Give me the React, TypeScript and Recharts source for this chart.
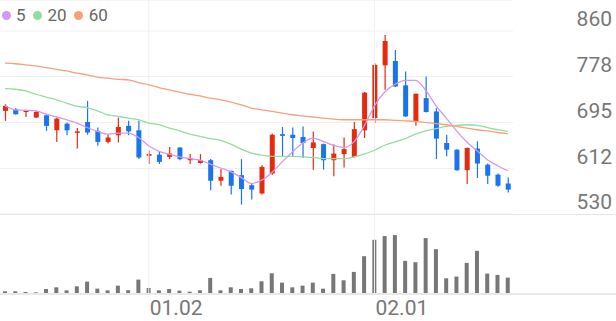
import { ComposedChart, Bar, Line, XAxis, YAxis, CartesianGrid, ReferenceLine } from 'recharts';

// daily candles, oldest first
const opens = [716, 719, 714, 704, 708, 681, 693, 677, 696, 680, 660, 672, 689, 681, 635, 637, 633, 650, 627, 622, 627, 590, 608, 600, 582, 567, 603, 674, 673, 669, 649, 656, 627, 638, 633, 681, 703, 798, 806, 762, 697, 739, 715, 658, 646, 609, 648, 619, 601, 585];
const highs = [728, 721, 718, 716, 709, 704, 695, 685, 734, 686, 674, 704, 698, 698, 644, 642, 651, 650, 638, 638, 629, 611, 608, 629, 585, 618, 675, 687, 686, 688, 679, 657, 656, 668, 696, 750, 802, 853, 826, 787, 747, 778, 721, 673, 647, 650, 661, 621, 603, 596];
const lows = [698, 709, 705, 703, 680, 660, 672, 648, 673, 653, 657, 659, 672, 629, 620, 620, 629, 627, 620, 621, 573, 581, 565, 547, 556, 565, 601, 633, 634, 631, 610, 610, 598, 614, 632, 667, 694, 754, 759, 705, 689, 713, 629, 634, 608, 584, 595, 584, 579, 569];
const closes = [725, 710, 717, 714, 689, 702, 681, 679, 677, 660, 668, 687, 679, 632, 638, 624, 639, 629, 630, 627, 590, 597, 581, 575, 574, 615, 673, 671, 667, 658, 659, 627, 639, 647, 683, 749, 799, 842, 760, 706, 747, 714, 666, 646, 609, 649, 621, 599, 581, 574];
const volumes = [5, 5, 3, 2, 12, 17, 8, 20, 34, 13, 8, 22, 8, 40, 15, 8, 12, 7, 4, 8, 45, 8, 17, 12, 14, 35, 59, 31, 17, 22, 31, 13, 57, 38, 63, 110, 159, 170, 173, 96, 92, 164, 131, 44, 49, 90, 126, 58, 54, 46];

// moving averages
const ma5 = [725, 718, 717, 716, 710, 705, 700, 694, 686, 679, 674, 676, 676, 668, 653, 643, 638, 633, 630, 627, 620, 613, 606, 596, 585, 591, 605, 624, 642, 658, 667, 661, 654, 650, 660, 689, 725, 750, 764, 771, 771, 753, 725, 703, 680, 660, 644, 628, 617, 608];
const ma20 = [756, 755, 752, 746, 741, 736, 730, 724, 722, 716, 709, 706, 703, 700, 694, 691, 685, 680, 674, 670, 666, 663, 656, 647, 640, 636, 634, 634, 634, 633, 632, 630, 630, 630, 633, 638, 645, 654, 660, 666, 674, 680, 684, 688, 690, 691, 690, 686, 682, 679];
const ma60 = [802, 801, 799, 797, 794, 791, 788, 784, 781, 777, 775, 773, 772, 767, 763, 758, 754, 750, 746, 743, 739, 736, 732, 727, 721, 718, 715, 712, 709, 707, 705, 703, 701, 700, 700, 700, 700, 700, 699, 698, 697, 695, 693, 691, 688, 685, 682, 680, 677, 675];

const priceTicks = [530, 612, 695, 778, 860];
const dateTicks = [14, 36];
const dateLabels = ['01.02', '02.01'];

const maSeries = [
  { key: 'ma5', name: '5', color: '#d597f0' },
  { key: 'ma20', name: '20', color: '#94dca0' },
  { key: 'ma60', name: '60', color: '#f6a07c' }
];

const UP = '#e52b0d';
const DOWN = '#1a74ec';
const GRID = '#f0f0f0';
const FONT = 'Roboto, sans-serif';

const data = opens.map((open, i) => ({
  i,
  open,
  high: highs[i],
  low: lows[i],
  close: closes[i],
  range: [lows[i], highs[i]],
  volume: volumes[i],
  ma5: ma5[i],
  ma20: ma20[i],
  ma60: ma60[i]
}));

function Candle(props: any) {
  const { x, y, width, height, payload } = props;
  const { open, close, high, low } = payload;
  const color = close >= open ? UP : DOWN;
  const span = high - low || 1;
  const toY = (v: number) => y + ((high - v) / span) * height;
  const top = toY(Math.max(open, close));
  const bottom = toY(Math.min(open, close));
  const cx = x + width / 2;
  return (
    <g>
      <line x1={cx} x2={cx} y1={y} y2={y + height} stroke={color} strokeWidth={1.2} />
      <rect x={x} y={top} width={width} height={Math.max(bottom - top, 1.5)} fill={color} />
    </g>
  );
}

function PriceTick({ x, y, payload }: any) {
  return (
    <text x={x + 99} y={y - 5} textAnchor="end" fill="#777" fontSize={21} fontFamily={FONT}>
      {payload.value}
    </text>
  );
}

function DateTick({ x, y, payload }: any) {
  const label = dateLabels[dateTicks.indexOf(payload.value)];
  return (
    <text x={x + 1} y={y} dy={22} textAnchor="start" fill="#777" fontSize={21} fontFamily={FONT}>
      {label}
    </text>
  );
}

export default function App() {
  return (
    <div style={{ position: 'absolute', left: 0, top: 0, width: 616, height: 321, background: '#fff', fontFamily: FONT }}>
      <ComposedChart
        width={616}
        height={215}
        data={data}
        margin={{ top: 0, right: 0, bottom: 1, left: 0 }}
        barCategoryGap={0}
      >
        <CartesianGrid vertical={false} stroke={GRID} />
        <XAxis dataKey="i" hide />
        <YAxis
          orientation="right"
          domain={[530, 916]}
          ticks={priceTicks}
          width={103}
          axisLine={false}
          tickLine={false}
          tickSize={0}
          tickMargin={0}
          interval={0}
          tick={<PriceTick />}
        />
        {dateTicks.map((t) => (
          <ReferenceLine key={t} x={t} stroke={GRID} />
        ))}
        <Bar dataKey="range" barSize={5} shape={<Candle />} isAnimationActive={false} />
        {maSeries.map((s) => (
          <Line
            key={s.key}
            type="monotone"
            dataKey={s.key}
            name={s.name}
            stroke={s.color}
            strokeWidth={1.3}
            dot={false}
            activeDot={false}
            isAnimationActive={false}
          />
        ))}
      </ComposedChart>

      <div style={{ position: 'absolute', left: 0, top: 214, width: 616, height: 1, background: '#e6e6e6' }} />

      <div style={{ position: 'absolute', left: 0, top: 215 }}>
        <ComposedChart
          width={616}
          height={106}
          data={data}
          margin={{ top: 0, right: 103, bottom: 0, left: 0 }}
          barCategoryGap={0}
        >
          <XAxis
            dataKey="i"
            ticks={dateTicks}
            interval={0}
            height={28}
            axisLine={false}
            tickLine={false}
            tickSize={0}
            tickMargin={0}
            tick={<DateTick />}
          />
          <YAxis hide domain={[0, 233]} />
          {dateTicks.map((t) => (
            <ReferenceLine key={t} x={t} stroke={GRID} />
          ))}
          <Bar dataKey="volume" fill="#777" barSize={4} isAnimationActive={false} />
        </ComposedChart>
      </div>

      <div style={{ position: 'absolute', left: 0, top: 293, width: 616, height: 2, background: '#e8e8e8' }} />

      <div
        style={{
          position: 'absolute',
          left: 1.5,
          top: 6,
          height: 19,
          display: 'flex',
          alignItems: 'center',
          gap: 7.5,
          fontSize: 17,
          lineHeight: '19px',
          color: '#666'
        }}
      >
        {maSeries.map((s) => (
          <div key={s.key} style={{ display: 'flex', alignItems: 'center' }}>
            <span
              style={{ width: 9, height: 9, borderRadius: '50%', background: s.color, marginRight: 5.5 }}
            />
            <span>{s.name}</span>
          </div>
        ))}
      </div>
    </div>
  );
}
